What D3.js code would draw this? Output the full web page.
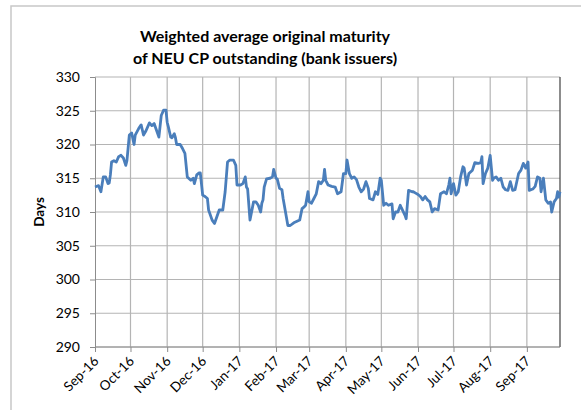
<!DOCTYPE html>
<html>
<head>
<meta charset="utf-8">
<script src="https://cdn.jsdelivr.net/npm/d3@7"></script>
<style>
  body { margin: 0; background: #fff; }
  text { font-family: Lato, "Liberation Sans", Arial, sans-serif; fill: #000; }
  .grid line { stroke: #b4b4b4; stroke-width: 1.2; }
  .axis path, .axis line { stroke: #8c8c8c; }
</style>
</head>
<body>
<svg id="chart"></svg>
<script>
var width = 581,
  height = 410;

var titleLines = ['Weighted average original maturity', 'of NEU CP outstanding (bank issuers)'];
var yLabel = 'Days';
var yTicks = [290, 295, 300, 305, 310, 315, 320, 325, 330];
var monthTicks = ['2016-09-01', '2016-10-01', '2016-11-01', '2016-12-01', '2017-01-01', '2017-02-01',
  '2017-03-01', '2017-04-01', '2017-05-01', '2017-06-01', '2017-07-01', '2017-08-01', '2017-09-01'];

var dates = [
  '2016-09-01', '2016-09-04', '2016-09-06', '2016-09-08', '2016-09-10', '2016-09-12', '2016-09-13', '2016-09-14',
  '2016-09-15', '2016-09-17', '2016-09-19', '2016-09-21', '2016-09-23', '2016-09-25', '2016-09-27', '2016-09-28',
  '2016-09-30', '2016-10-02', '2016-10-04', '2016-10-05', '2016-10-08', '2016-10-10', '2016-10-12', '2016-10-14',
  '2016-10-17', '2016-10-19', '2016-10-21', '2016-10-22', '2016-10-25', '2016-10-27', '2016-10-29', '2016-10-31',
  '2016-11-01', '2016-11-02', '2016-11-04', '2016-11-05', '2016-11-07', '2016-11-08', '2016-11-09', '2016-11-12',
  '2016-11-14', '2016-11-16', '2016-11-18', '2016-11-21', '2016-11-23', '2016-11-24', '2016-11-26', '2016-11-28',
  '2016-11-29', '2016-12-01', '2016-12-03', '2016-12-05', '2016-12-06', '2016-12-09', '2016-12-11', '2016-12-13',
  '2016-12-15', '2016-12-18', '2016-12-20', '2016-12-22', '2016-12-24', '2016-12-27', '2016-12-29', '2016-12-30',
  '2017-01-02', '2017-01-04', '2017-01-06', '2017-01-07', '2017-01-08', '2017-01-10', '2017-01-13', '2017-01-15',
  '2017-01-17', '2017-01-19', '2017-01-20', '2017-01-21', '2017-01-22', '2017-01-24', '2017-01-27', '2017-01-29',
  '2017-01-30', '2017-02-01', '2017-02-02', '2017-02-04', '2017-02-06', '2017-02-07', '2017-02-09', '2017-02-11',
  '2017-02-13', '2017-02-16', '2017-02-21', '2017-02-23', '2017-02-25', '2017-02-26', '2017-02-28', '2017-03-01',
  '2017-03-03', '2017-03-05', '2017-03-07', '2017-03-09', '2017-03-11', '2017-03-13', '2017-03-14', '2017-03-15',
  '2017-03-17', '2017-03-20', '2017-03-23', '2017-03-25', '2017-03-28', '2017-03-30', '2017-04-01', '2017-04-02',
  '2017-04-04', '2017-04-06', '2017-04-08', '2017-04-10', '2017-04-12', '2017-04-14', '2017-04-16', '2017-04-18',
  '2017-04-20', '2017-04-21', '2017-04-24', '2017-04-26', '2017-04-28', '2017-04-30', '2017-05-01', '2017-05-03',
  '2017-05-05', '2017-05-07', '2017-05-10', '2017-05-11', '2017-05-13', '2017-05-15', '2017-05-17', '2017-05-18',
  '2017-05-21', '2017-05-22', '2017-05-24', '2017-05-27', '2017-05-28', '2017-05-30', '2017-06-01', '2017-06-03',
  '2017-06-05', '2017-06-07', '2017-06-09', '2017-06-11', '2017-06-13', '2017-06-15', '2017-06-18', '2017-06-19',
  '2017-06-20', '2017-06-23', '2017-06-25', '2017-06-27', '2017-06-28', '2017-06-29', '2017-07-01', '2017-07-03',
  '2017-07-05', '2017-07-07', '2017-07-09', '2017-07-10', '2017-07-12', '2017-07-14', '2017-07-17', '2017-07-19',
  '2017-07-22', '2017-07-24', '2017-07-25', '2017-07-26', '2017-07-28', '2017-07-30', '2017-08-01', '2017-08-03',
  '2017-08-04', '2017-08-06', '2017-08-08', '2017-08-10', '2017-08-12', '2017-08-14', '2017-08-16', '2017-08-18',
  '2017-08-20', '2017-08-22', '2017-08-25', '2017-08-27', '2017-08-29', '2017-08-31', '2017-09-02', '2017-09-03',
  '2017-09-06', '2017-09-08', '2017-09-10', '2017-09-12', '2017-09-13', '2017-09-15', '2017-09-17', '2017-09-19',
  '2017-09-21', '2017-09-22', '2017-09-24', '2017-09-26', '2017-09-27', '2017-09-28', '2017-09-29'
];

var values = [
  313.7, 313.9, 313.0, 315.2, 315.2, 314.2, 314.3, 315.5,
  317.4, 317.6, 317.4, 318.2, 318.4, 318.0, 316.9, 317.6,
  321.4, 321.7, 320.0, 321.4, 322.4, 322.9, 321.4, 322.0,
  323.2, 322.8, 323.1, 322.6, 321.1, 324.3, 325.1, 325.1,
  323.3, 322.6, 321.1, 321.0, 321.6, 321.0, 320.0, 320.0,
  319.4, 318.7, 315.2, 314.7, 315.0, 314.2, 315.5, 315.8,
  315.8, 312.5, 312.3, 312.0, 310.3, 308.8, 308.3, 309.3,
  310.3, 310.3, 313.0, 317.4, 317.7, 317.7, 316.9, 314.0,
  314.0, 314.2, 315.2, 313.7, 313.4, 308.8, 311.5, 311.5,
  311.0, 310.0, 311.3, 311.8, 313.7, 314.9, 315.0, 315.2,
  316.3, 315.0, 314.9, 313.5, 313.3, 312.0, 310.0, 308.0,
  308.0, 308.4, 308.8, 310.5, 310.8, 311.0, 313.0, 311.5,
  311.3, 312.0, 312.7, 314.5, 314.2, 314.7, 316.3, 314.7,
  314.0, 313.8, 313.7, 312.7, 313.0, 315.7, 315.7, 317.7,
  315.7, 315.0, 315.2, 314.8, 313.7, 313.0, 313.4, 314.5,
  313.5, 312.0, 311.8, 313.0, 312.6, 315.0, 314.7, 311.0,
  311.3, 311.0, 311.2, 309.0, 310.0, 310.0, 311.0, 310.6,
  309.5, 309.0, 313.2, 313.0, 313.0, 312.8, 312.6, 312.3,
  311.8, 312.3, 311.8, 311.5, 310.0, 310.5, 310.3, 311.5,
  312.7, 313.0, 312.7, 314.0, 315.0, 312.7, 314.2, 312.5,
  313.0, 315.2, 316.7, 316.5, 314.0, 315.7, 316.2, 317.3,
  317.2, 317.3, 318.2, 314.2, 315.7, 316.5, 318.4, 314.7,
  315.0, 315.2, 314.7, 315.0, 313.7, 313.3, 313.2, 314.5,
  313.2, 313.3, 315.7, 316.2, 317.2, 316.5, 317.4, 313.2,
  313.4, 313.8, 315.2, 315.0, 313.0, 315.0, 311.8, 311.3,
  311.5, 310.0, 311.5, 312.0, 313.0, 312.2, 313.0
];

var parseDate = d3.timeParse('%Y-%m-%d');
var data = dates.map(function(d, i) {
  return { date: parseDate(d), value: values[i] };
});

var margin = { top: 77, right: 21, bottom: 63, left: 95 };
var innerW = width - margin.left - margin.right,
  innerH = height - margin.top - margin.bottom;

var svg = d3.select('#chart')
  .attr('width', width)
  .attr('height', height);

// chart frame
svg.append('rect')
  .attr('x', 11)
  .attr('y', 6)
  .attr('width', width + 20)
  .attr('height', height + 20)
  .attr('fill', 'none')
  .attr('stroke', '#c8c8c8')
  .attr('stroke-width', 1.5);

var title = svg.append('text')
  .attr('text-anchor', 'middle')
  .attr('font-weight', 'bold')
  .attr('font-size', '16px');

title.selectAll('tspan')
  .data(titleLines)
  .enter().append('tspan')
  .attr('x', 265)
  .attr('y', function(d, i) { return 42 + i * 22; })
  .text(function(d) { return d; });

var x = d3.scaleTime()
  .domain([parseDate('2016-09-01'), parseDate('2017-09-29')])
  .range([0, innerW]);

var y = d3.scaleLinear()
  .domain([290, 330])
  .range([innerH, 0]);

var g = svg.append('g')
  .attr('transform', 'translate(' + margin.left + ',' + margin.top + ')');

var tickDates = monthTicks.map(parseDate);

// gridlines
g.append('g')
  .attr('class', 'grid')
  .selectAll('line')
  .data(yTicks)
  .enter().append('line')
  .attr('x1', 0)
  .attr('x2', innerW)
  .attr('y1', function(d) { return y(d); })
  .attr('y2', function(d) { return y(d); });

g.append('g')
  .attr('class', 'grid')
  .selectAll('line')
  .data(tickDates.slice(1))
  .enter().append('line')
  .attr('y1', 0)
  .attr('y2', innerH)
  .attr('x1', function(d) { return x(d); })
  .attr('x2', function(d) { return x(d); });

// right border of plot area
g.append('line')
  .attr('x1', innerW)
  .attr('x2', innerW)
  .attr('y1', 0)
  .attr('y2', innerH)
  .attr('stroke', '#404040')
  .attr('stroke-width', 1.2);

var yAxis = g.append('g')
  .attr('class', 'axis')
  .call(d3.axisLeft(y).tickValues(yTicks).tickSize(5).tickPadding(10));
yAxis.selectAll('text')
  .attr('font-size', '14px')
  .attr('font-family', 'Lato, "Liberation Sans", Arial, sans-serif')
  .attr('fill', '#222');

var xAxis = g.append('g')
  .attr('class', 'axis')
  .attr('transform', 'translate(0,' + innerH + ')')
  .call(d3.axisBottom(x).tickValues(tickDates).tickSize(5).tickFormat(d3.timeFormat('%b-%y')));
xAxis.select('.domain').attr('d', 'M0,0H' + innerW);
xAxis.selectAll('text')
  .attr('font-size', '13.5px')
  .attr('font-family', 'Lato, "Liberation Sans", Arial, sans-serif')
  .attr('fill', '#222')
  .attr('text-anchor', 'end')
  .attr('dy', null)
  .attr('y', 0)
  .attr('transform', 'translate(4,15) rotate(-45)');

svg.append('text')
  .attr('transform', 'translate(44,' + (margin.top + innerH / 2) + ') rotate(-90)')
  .attr('text-anchor', 'middle')
  .attr('font-weight', 'bold')
  .attr('font-size', '13.5px')
  .text(yLabel);

var line = d3.line()
  .x(function(d) { return x(d.date); })
  .y(function(d) { return y(d.value); });

g.append('path')
  .datum(data)
  .attr('fill', 'none')
  .attr('stroke', '#4a7ebb')
  .attr('stroke-width', 2.8)
  .attr('stroke-linejoin', 'round')
  .attr('d', line);
</script>
</body>
</html>
